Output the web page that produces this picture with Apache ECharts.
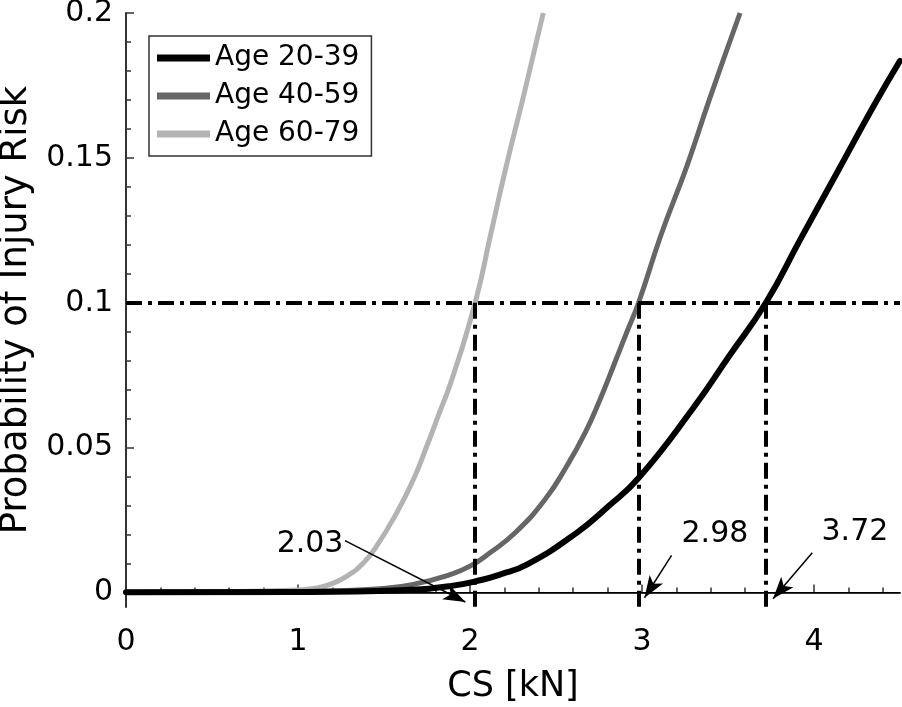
<!DOCTYPE html>
<html><head><meta charset="utf-8">
<script src="https://cdn.jsdelivr.net/npm/echarts@6/dist/echarts.min.js"></script>
<style>html,body{margin:0;padding:0;background:#fff}#c{width:902px;height:707px}</style>
</head><body><div id="c"></div>
<script>
const FONT = 'DejaVu Sans';
const seriesNames = ['Age 20-39', 'Age 40-59', 'Age 60-79'];
const xTickValues = [0, 1, 2, 3, 4];
const xMinorTickValues = [0.2,0.4,0.6,0.8,1.2,1.4,1.6,1.8,2.2,2.4,2.6,2.8,3.2,3.4,3.6,3.8,4.2,4.4];
const yTickValues = [0, 0.05, 0.1, 0.15, 0.2];
const yMinorTickValues = [0.01,0.02,0.03,0.04,0.06,0.07,0.08,0.09,0.11,0.12,0.13,0.14,0.16,0.17,0.18,0.19];

const cs2039 = [0, 1.0, 1.6, 1.884, 2.077, 2.174, 2.33, 2.62, 2.8, 2.98, 3.298, 3.502, 3.72, 3.919, 4.132, 4.345, 4.5];
const p2039  = [0.0001, 0.0002, 0.0008, 0.0022, 0.0045, 0.0062, 0.0096, 0.0206, 0.0295, 0.0395, 0.0637, 0.0812, 0.1, 0.1217, 0.1447, 0.1677, 0.1835];

const cs4059 = [0, 0.8, 1.2, 1.477, 1.67, 1.884, 2.0, 2.116, 2.262, 2.436, 2.562, 2.669, 2.756, 2.833, 2.91, 2.98, 3.114, 3.26, 3.391, 3.57];
const p4059  = [0.0001, 0.0002, 0.0006, 0.0013, 0.0028, 0.0062, 0.0091, 0.0137, 0.0206, 0.0321, 0.0436, 0.0551, 0.0666, 0.078, 0.0896, 0.1, 0.124, 0.147, 0.17, 0.2];

const cs6079 = [0, 0.5, 0.8, 1.0, 1.09, 1.186, 1.283, 1.38, 1.457, 1.574, 1.671, 1.748, 1.822, 1.894, 2.03, 2.12, 2.21, 2.31, 2.426];
const p6079  = [0.0001, 0.0002, 0.0005, 0.0009, 0.0014, 0.0028, 0.0056, 0.0102, 0.016, 0.0275, 0.039, 0.0504, 0.062, 0.0734, 0.1, 0.1235, 0.147, 0.171, 0.2];

const riskLevel = 0.1;
const thresholdCS = [2.03, 2.98, 3.72];
const thresholdText = ['2.03', '2.98', '3.72'];

// annotation anchor points (data coordinates)
const arrowFrom = [[1.273, 0.0179], [3.172, 0.0128], [3.99, 0.0137]];
const textAt = [[1.07, 0.0166], [3.424, 0.0200], [4.238, 0.0207]];

const X_MIN = 0, X_MAX = 4.5, Y_MIN = -0.005, Y_MAX = 0.2;
const ARROW_W = 12, ARROW_L = 22;

const zip = (xs, ys) => xs.map((x, i) => [x, ys[i]]);
const dashStyle = { type: [16, 6, 4, 6], width: 4, color: '#000', cap: 'butt' };
const arrowStyle = { type: 'solid', width: 1.5, color: '#000' };

function buildMarks(arrowEnds) {
  const markData = [];
  markData.push([{ coord: [X_MIN, riskLevel], lineStyle: dashStyle }, { coord: [X_MAX, riskLevel] }]);
  thresholdCS.forEach(x => {
    markData.push([{ coord: [x, riskLevel], lineStyle: dashStyle }, { coord: [x, Y_MIN] }]);
  });
  thresholdCS.forEach((x, i) => {
    markData.push([
      { coord: arrowFrom[i], lineStyle: arrowStyle, symbol: 'none' },
      { coord: arrowEnds ? arrowEnds[i] : [x, Y_MIN], symbol: 'arrow', symbolSize: [ARROW_W, ARROW_L] }
    ]);
  });
  return markData;
}

const axisCommon = {
  type: 'value',
  splitLine: { show: false },
  axisLine: { show: true, lineStyle: { color: '#333', width: 2 } }
};
const tickLabelStyle = { fontSize: 30, fontFamily: FONT, fontWeight: 'normal', color: '#000' };

const option = {
  animation: false,
  backgroundColor: '#fff',
  textStyle: { fontFamily: FONT, color: '#000' },
  grid: { left: 126, right: 2, top: 13, bottom: 100, containLabel: false, outerBoundsMode: 'none' },
  legend: {
    data: seriesNames,
    orient: 'vertical',
    left: 149, top: 36,
    padding: [7, 12, 7, 8],
    itemWidth: 53, itemHeight: 7, itemGap: 8,
    icon: 'rect',
    borderColor: '#333', borderWidth: 1.5,
    backgroundColor: '#fff',
    textStyle: { fontSize: 28, fontFamily: FONT, color: '#000', lineHeight: 30 }
  },
  xAxis: [
    Object.assign({}, axisCommon, {
      min: X_MIN, max: X_MAX, position: 'bottom',
      name: 'CS [kN]', nameLocation: 'middle', nameGap: 62,
      nameTextStyle: { fontSize: 35, fontFamily: FONT, color: '#000' },
      axisTick: { show: true, inside: true, length: 8, customValues: xTickValues, lineStyle: { color: '#333', width: 1.5 } },
      axisLabel: Object.assign({ show: true, customValues: xTickValues, margin: 20 }, tickLabelStyle)
    }),
    Object.assign({}, axisCommon, {
      min: X_MIN, max: X_MAX, position: 'bottom',
      axisLine: { show: false },
      axisTick: { show: true, inside: true, length: 5, customValues: xMinorTickValues, lineStyle: { color: '#333', width: 1.5 } },
      axisLabel: { show: false }
    })
  ],
  yAxis: [
    Object.assign({}, axisCommon, {
      min: Y_MIN, max: Y_MAX, position: 'left',
      name: 'Probability of Injury Risk', nameLocation: 'middle', nameGap: 89,
      nameTextStyle: { fontSize: 37, fontFamily: FONT, color: '#000' },
      axisTick: { show: true, inside: true, length: 8, customValues: yTickValues, lineStyle: { color: '#333', width: 1.5 } },
      axisLabel: Object.assign({ show: true, customValues: yTickValues, margin: 13 }, tickLabelStyle)
    }),
    Object.assign({}, axisCommon, {
      min: Y_MIN, max: Y_MAX, position: 'left',
      axisLine: { show: false },
      axisTick: { show: true, inside: true, length: 5, customValues: yMinorTickValues, lineStyle: { color: '#333', width: 1.5 } },
      axisLabel: { show: false }
    })
  ],
  series: [
    { name: seriesNames[2], type: 'line', data: zip(cs6079, p6079), smooth: 0.5, symbol: 'none',
      lineStyle: { color: '#b3b3b3', width: 5 }, itemStyle: { color: '#b3b3b3' }, clip: true },
    { name: seriesNames[1], type: 'line', data: zip(cs4059, p4059), smooth: 0.5, symbol: 'none',
      lineStyle: { color: '#666666', width: 5 }, itemStyle: { color: '#666666' }, clip: true },
    { name: seriesNames[0], type: 'line', data: zip(cs2039, p2039), smooth: 0.5, symbol: 'none',
      lineStyle: { color: '#000000', width: 6, cap: 'round' }, itemStyle: { color: '#000000' }, clip: true },
    { id: 'zero', name: 'zero', type: 'line', data: [[X_MIN, 0], [X_MAX, 0]], symbol: 'none', silent: true,
      lineStyle: { color: '#000', width: 1 },
      markLine: { silent: true, animation: false, symbol: ['none', 'none'], label: { show: false },
        emphasis: { disabled: true }, data: buildMarks(null) } },
    { name: 'labels', type: 'scatter', silent: true, symbolSize: 1,
      itemStyle: { color: 'rgba(0,0,0,0)', opacity: 1 },
      data: textAt.map((p, i) => ({ value: p, label: { formatter: thresholdText[i] } })),
      label: { show: true, position: 'inside', fontSize: 30, fontFamily: FONT, color: '#000', opacity: 1, textBorderWidth: 0 } }
  ]
};
const chart = echarts.init(document.getElementById('c'), null, { renderer: 'canvas' });
chart.setOption(option);

// pull each arrow's end back by half the head length so the head's tip lands on the target point
const finder = { xAxisIndex: 0, yAxisIndex: 0 };
const arrowEnds = thresholdCS.map((x, i) => {
  const p0 = chart.convertToPixel(finder, arrowFrom[i]);
  const p1 = chart.convertToPixel(finder, [x, Y_MIN]);
  const dx = p1[0] - p0[0], dy = p1[1] - p0[1];
  const L = Math.hypot(dx, dy);
  const back = ARROW_L / 2;
  return chart.convertFromPixel(finder, [p1[0] - dx / L * back, p1[1] - dy / L * back]);
});
chart.setOption({ series: [{ id: 'zero', markLine: { data: buildMarks(arrowEnds) } }] });
</script>
</body></html>
